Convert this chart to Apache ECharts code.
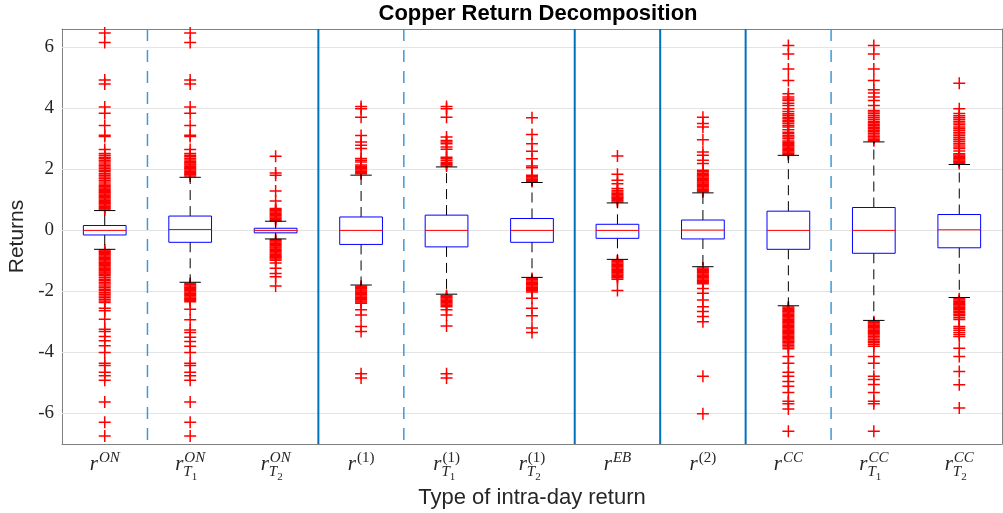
<!DOCTYPE html>
<html>
<head>
<meta charset="utf-8">
<script src="https://cdn.jsdelivr.net/npm/echarts@6/dist/echarts.min.js"></script>
<style>
  html, body { margin: 0; padding: 0; background: #fff; }
  #chart { width: 1003px; height: 513px; }
</style>
</head>
<body>
<div id="chart"></div>
<script>
// categories (MATLAB boxplot groups)
const categories = ["rON", "rON_T1", "rON_T2", "r1", "r1_T1", "r1_T2", "rEB", "r2", "rCC", "rCC_T1", "rCC_T2"];
const supText = ["ON", "ON", "ON", "(1)", "(1)", "(1)", "EB", "(2)", "CC", "CC", "CC"];
const subIndex = ["", "1", "2", "", "1", "2", "", "", "", "1", "2"];

// box statistics
const whiskerLow  = [-0.62, -1.70, -0.28, -1.79, -2.09, -1.54, -0.95, -1.19, -2.47, -2.95, -2.20];
const quart1      = [-0.15, -0.39, -0.08, -0.46, -0.54, -0.39, -0.26, -0.28, -0.62, -0.75, -0.57];
const medians     = [0.00, 0.03, 0.00, 0.00, 0.00, 0.00, 0.00, 0.01, 0.00, 0.00, 0.02];
const quart3      = [0.16, 0.47, 0.07, 0.44, 0.50, 0.39, 0.20, 0.34, 0.63, 0.75, 0.52];
const whiskerHigh = [0.65, 1.74, 0.30, 1.81, 2.08, 1.57, 0.90, 1.23, 2.46, 2.90, 2.16];

// outliers per group
const outON = [0.67, 0.71, 0.75, 0.79, 0.83, 0.87, 0.91, 0.95, 0.99, 1.03, 1.07, 1.11, 1.15, 1.19, 1.23, 1.27, 1.31, 1.35, 1.39, 1.43, 1.47,
  1.52, 1.59, 1.64, 1.70, 1.75, 1.81, 1.86, 1.92, 1.97, 2.03, 2.08, 2.13, 2.18, 2.24, 2.29, 2.35, 2.40, 2.46, 2.52,
  2.65, 3.08, 3.12, 3.44, 3.84, 4.04, 4.80, 4.93, 6.16, 6.47,
  -0.64, -0.68, -0.72, -0.76, -0.80, -0.84, -0.88, -0.92, -0.96, -1.00, -1.04, -1.08, -1.12, -1.16, -1.20, -1.24, -1.28, -1.32, -1.36, -1.40, -1.44,
  -1.49, -1.54, -1.60, -1.65, -1.71, -1.76, -1.82, -1.87, -1.93, -1.98, -2.04, -2.09, -2.15, -2.20, -2.26, -2.31, -2.36,
  -2.55, -2.63, -2.91, -3.24, -3.31, -3.48, -3.62, -3.78, -4.00, -4.35, -4.43, -4.65, -4.76, -4.91, -5.62, -6.29, -6.74];
const outON_T1 = [1.78, 1.82, 1.86, 1.90, 1.94, 1.98, 2.02, 2.06, 2.10, 2.14, 2.18, 2.22, 2.26, 2.31, 2.36, 2.41, 2.46, 2.52,
  2.65, 3.08, 3.12, 3.44, 3.84, 4.04, 4.80, 4.93, 6.16, 6.47,
  -1.74, -1.78, -1.82, -1.86, -1.90, -1.94, -1.98, -2.02, -2.06, -2.10, -2.14, -2.18, -2.22, -2.26, -2.30, -2.34,
  -2.58, -2.93, -3.26, -3.35, -3.50, -3.64, -3.80, -4.00, -4.35, -4.43, -4.65, -4.76, -4.91, -5.62, -6.29, -6.74];
const outON_T2 = [0.32, 0.36, 0.40, 0.44, 0.48, 0.52, 0.56, 0.60, 0.64, 0.68, 0.72, 0.96, 1.29, 1.81, 1.88, 2.43,
  -0.30, -0.34, -0.38, -0.42, -0.46, -0.50, -0.54, -0.58, -0.62, -0.66, -0.70, -0.74, -0.78, -0.82, -0.86, -0.90, -0.94, -0.98,
  -1.07, -1.24, -1.41, -1.52, -1.82];
const out1 = [1.86, 1.90, 1.94, 1.98, 2.02, 2.06, 2.10, 2.14, 2.24, 2.30, 2.36, 2.68, 2.79, 2.90, 3.11, 3.71, 3.99, 4.06,
  -1.83, -1.87, -1.91, -1.95, -1.99, -2.03, -2.07, -2.11, -2.15, -2.19, -2.23, -2.27, -2.31, -2.35, -2.39,
  -2.60, -2.77, -3.15, -3.31, -4.70, -4.84];
const out1_T1 = [2.11, 2.15, 2.19, 2.23, 2.30, 2.36, 2.40, 2.66, 2.73, 2.84, 2.90, 2.95, 3.06, 3.71, 3.99, 4.06,
  -2.13, -2.17, -2.21, -2.25, -2.29, -2.33, -2.37, -2.41, -2.45, -2.50, -2.60, -2.77, -3.13, -4.70, -4.84];
const out1_T2 = [1.60, 1.64, 1.68, 1.72, 1.76, 1.81, 2.05, 2.11, 2.35, 2.59, 2.84, 3.14, 3.69,
  -1.58, -1.62, -1.66, -1.70, -1.74, -1.78, -1.82, -1.86, -1.90, -1.94, -1.98, -2.02, -2.22, -2.55, -2.80, -3.20, -3.35];
const outEB = [0.93, 0.97, 1.01, 1.05, 1.09, 1.13, 1.17, 1.21, 1.26, 1.31, 1.37, 1.53, 1.64, 1.84, 2.44,
  -0.99, -1.03, -1.07, -1.11, -1.15, -1.19, -1.23, -1.27, -1.31, -1.35, -1.39, -1.43, -1.47, -1.51, -1.55, -1.60, -1.97];
const out2 = [1.27, 1.31, 1.35, 1.39, 1.43, 1.47, 1.51, 1.55, 1.59, 1.63, 1.67, 1.71, 1.75, 1.79, 1.83, 1.87, 1.92, 1.97,
  2.19, 2.30, 2.46, 2.57, 2.97, 3.39, 3.50, 3.71,
  -1.23, -1.27, -1.31, -1.35, -1.39, -1.43, -1.47, -1.51, -1.55, -1.59, -1.63, -1.67, -1.71, -1.75,
  -1.90, -2.06, -2.28, -2.50, -2.66, -2.82, -2.99, -4.78, -6.01];
const outCC = [2.49, 2.53, 2.57, 2.61, 2.65, 2.69, 2.73, 2.77, 2.81, 2.85, 2.89, 2.93, 3.00, 3.06, 3.10, 3.17, 3.22, 3.30, 3.39, 3.44,
  3.50, 3.56, 3.60, 3.66, 3.71, 3.77, 3.82, 3.90, 3.99, 4.09, 4.17, 4.26, 4.31, 4.37, 4.48, 4.91, 5.29, 5.78, 6.06,
  -2.51, -2.55, -2.59, -2.63, -2.67, -2.71, -2.75, -2.79, -2.83, -2.87, -2.91, -2.95, -2.99, -3.03, -3.07, -3.11, -3.15, -3.19,
  -3.23, -3.27, -3.31, -3.35, -3.39, -3.43, -3.47, -3.51, -3.55, -3.59, -3.63, -3.67, -3.72, -3.77, -3.82, -3.88,
  -4.13, -4.35, -4.65, -4.78, -4.95, -5.11, -5.31, -5.60, -5.68, -5.85, -6.58];
const outCC_T1 = [2.94, 2.98, 3.03, 3.08, 3.13, 3.18, 3.23, 3.28, 3.33, 3.38, 3.43, 3.48, 3.53, 3.58, 3.64, 3.70, 3.76, 3.82, 3.88, 3.93,
  4.09, 4.26, 4.37, 4.50, 4.61, 4.91, 5.29, 5.78, 6.06,
  -2.99, -3.03, -3.07, -3.11, -3.15, -3.19, -3.23, -3.27, -3.31, -3.35, -3.39, -3.43, -3.48, -3.53, -3.58, -3.63, -3.68, -3.74, -3.80,
  -4.13, -4.35, -4.78, -4.89, -5.05, -5.31, -5.60, -5.68, -6.58];
const outCC_T2 = [2.19, 2.23, 2.27, 2.31, 2.35, 2.39, 2.43, 2.47, 2.51, 2.60, 2.68, 2.73, 2.80, 2.86, 2.92, 2.98, 3.04, 3.10, 3.16, 3.22,
  3.28, 3.34, 3.39, 3.46, 3.52, 3.58, 3.64, 3.70, 3.76, 3.83, 3.99, 4.82,
  -2.24, -2.28, -2.32, -2.36, -2.40, -2.44, -2.48, -2.52, -2.56, -2.60, -2.65, -2.70, -2.75, -2.80, -2.86, -2.92,
  -3.15, -3.21, -3.27, -3.35, -3.41, -3.48, -3.86, -4.13, -4.62, -5.06, -5.82];
const outliers = [outON, outON_T1, outON_T2, out1, out1_T1, out1_T2, outEB, out2, outCC, outCC_T1, outCC_T2];

// axis ticks and group separators
const yTicks = [-6, -4, -2, 0, 2, 4, 6];
const separatorAfter = [0, 2, 3, 5, 6, 7, 8];
const separatorDashed = [1, 0, 1, 0, 0, 0, 1];

const C = { text: "#262626", axis: "#808080", tick: "#4d4d4d", grid: "#e3e3e3", box: "#0000ff", med: "#ff0000", sep: "#0072bd", sepDash: "#3f9ad8" };
const serif = "'Liberation Serif', 'DejaVu Serif', serif";
const sans = "'Liberation Sans', Arial, sans-serif";

const boxData = categories.map(function (c, i) {
  return [i, whiskerLow[i], quart1[i], medians[i], quart3[i], whiskerHigh[i]];
});
const outlierData = [];
outliers.forEach(function (arr, i) {
  arr.forEach(function (v) { outlierData.push([i, v]); });
});
const sepData = separatorAfter.map(function (s, i) { return [s, separatorDashed[i]]; });

function renderBox(params, api) {
  const i = api.value(0);
  const band = api.size([1, 0])[0];
  const half = band * 0.25;
  const capHalf = band * 0.125;
  const lo = api.coord([i, api.value(1)]);
  const q1 = api.coord([i, api.value(2)]);
  const md = api.coord([i, api.value(3)]);
  const q3 = api.coord([i, api.value(4)]);
  const hi = api.coord([i, api.value(5)]);
  const x = md[0];
  const whisk = { stroke: "#000", lineWidth: 1, lineDash: [10, 6], fill: null };
  const cap = { stroke: "#000", lineWidth: 1, fill: null };
  return {
    type: "group",
    children: [
      { type: "line", shape: { x1: x, y1: q3[1], x2: x, y2: hi[1] }, style: whisk },
      { type: "line", shape: { x1: x, y1: q1[1], x2: x, y2: lo[1] }, style: whisk },
      { type: "line", shape: { x1: x - capHalf, y1: hi[1], x2: x + capHalf, y2: hi[1] }, style: cap },
      { type: "line", shape: { x1: x - capHalf, y1: lo[1], x2: x + capHalf, y2: lo[1] }, style: cap },
      { type: "rect", shape: { x: x - half, y: q3[1], width: half * 2, height: q1[1] - q3[1] },
        style: { stroke: C.box, lineWidth: 1, fill: null } },
      { type: "line", shape: { x1: x - half, y1: md[1], x2: x + half, y2: md[1] },
        style: { stroke: C.med, lineWidth: 1 } }
    ]
  };
}

function renderSeparator(params, api) {
  const i = api.value(0);
  const band = api.size([1, 0])[0];
  const x = api.coord([i, 0])[0] + band / 2;
  const cs = params.coordSys;
  const dashed = api.value(1) === 1;
  return {
    type: "line",
    shape: { x1: x, y1: cs.y, x2: x, y2: cs.y + cs.height },
    style: dashed
      ? { stroke: C.sepDash, lineWidth: 1.5, lineDash: [12, 9] }
      : { stroke: C.sep, lineWidth: 2 }
  };
}

// r^{sup}_{T_n} as two rich-text lines; padding shifts tokens down
function labelFormatter(value, idx) {
  const sup = supText[idx];
  const supStyle = /\d/.test(sup) ? "supU" : "sup";
  let s = "{g|r}{" + supStyle + "|" + sup + "}\n{r|r}";
  if (subIndex[idx]) s += "{sub|T}{sub1|" + subIndex[idx] + "}";
  return s;
}

const chart = echarts.init(document.getElementById("chart"), null, { renderer: "canvas" });
chart.setOption({
  animation: false,
  backgroundColor: "#fff",
  title: {
    text: "Copper Return Decomposition",
    left: 533,
    textAlign: "center",
    top: -2,
    textStyle: { fontFamily: sans, fontSize: 22, fontWeight: "bold", color: "#000" }
  },
  grid: { left: 62, right: 1, top: 29, bottom: 69, containLabel: false, outerBoundsMode: "none" },
  xAxis: [{
    type: "category",
    data: categories,
    position: "bottom",
    boundaryGap: true,
    name: "Type of intra-day return",
    nameLocation: "middle",
    nameGap: 43,
    nameTextStyle: { fontFamily: sans, fontSize: 22, color: C.text },
    axisLine: { onZero: false, lineStyle: { color: C.axis, width: 1 } },
    axisTick: { inside: true, alignWithLabel: true, length: 9, lineStyle: { color: C.tick } },
    splitLine: { show: false },
    axisLabel: {
      interval: 0,
      margin: 14,
      color: C.text,
      formatter: labelFormatter,
      rich: {
        g: { fontFamily: serif, fontStyle: "italic", fontSize: 21, color: "rgba(0,0,0,0)", lineHeight: 1, align: "left" },
        sup: { fontFamily: serif, fontStyle: "italic", fontSize: 15, color: C.text, lineHeight: 1, align: "left", padding: [0, 0, 0, 1] },
        supU: { fontFamily: serif, fontSize: 15, color: C.text, lineHeight: 1, align: "left", padding: [0, 0, 0, 1] },
        r: { fontFamily: serif, fontStyle: "italic", fontSize: 21, color: C.text, lineHeight: 2, align: "left", padding: [9, 0, 0, 0] },
        sub: { fontFamily: serif, fontStyle: "italic", fontSize: 15, color: C.text, lineHeight: 2, align: "left", padding: [25, 0, 0, 0] },
        sub1: { fontFamily: serif, fontSize: 11, color: C.text, lineHeight: 2, align: "left", padding: [34, 0, 0, 0] }
      }
    }
  }, {
    type: "category",
    data: categories,
    position: "top",
    boundaryGap: true,
    axisLine: { onZero: false, lineStyle: { color: C.axis, width: 1 } },
    axisTick: { inside: true, alignWithLabel: true, length: 9, lineStyle: { color: C.tick } },
    axisLabel: { show: false },
    splitLine: { show: false }
  }],
  yAxis: [{
    type: "value",
    min: -7,
    max: 6.6,
    position: "left",
    name: "Returns",
    nameLocation: "middle",
    nameGap: 32,
    nameTextStyle: { fontFamily: sans, fontSize: 21, color: C.text },
    axisLine: { show: true, onZero: false, lineStyle: { color: C.axis, width: 1 } },
    axisTick: { show: true, inside: true, length: 8, customValues: yTicks, lineStyle: { color: C.tick } },
    axisLabel: { customValues: yTicks, margin: 8, fontFamily: serif, fontSize: 19, color: C.text },
    splitLine: { show: false }
  }, {
    type: "value",
    min: -7,
    max: 6.6,
    position: "right",
    axisLine: { show: true, onZero: false, lineStyle: { color: C.axis, width: 1 } },
    axisTick: { show: true, inside: true, length: 8, customValues: yTicks, lineStyle: { color: C.tick } },
    axisLabel: { show: false },
    splitLine: { show: false }
  }],
  series: [{
    type: "custom",
    name: "separators",
    renderItem: renderSeparator,
    data: sepData,
    silent: true,
    z: 2,
    markLine: {
      silent: true,
      symbol: "none",
      z: 1,
      label: { show: false },
      lineStyle: { color: C.grid, width: 1, type: "solid" },
      data: yTicks.map(function (v) { return { yAxis: v }; })
    }
  }, {
    type: "scatter",
    name: "outliers",
    data: outlierData,
    symbol: "path://M0,6L12,6M6,0L6,12",
    symbolSize: 12,
    itemStyle: { color: C.med, borderColor: C.med, borderWidth: 1.5, opacity: 1 },
    silent: true,
    z: 3
  }, {
    type: "custom",
    name: "boxes",
    renderItem: renderBox,
    data: boxData,
    silent: true,
    z: 4
  }]
});
</script>
</body>
</html>
